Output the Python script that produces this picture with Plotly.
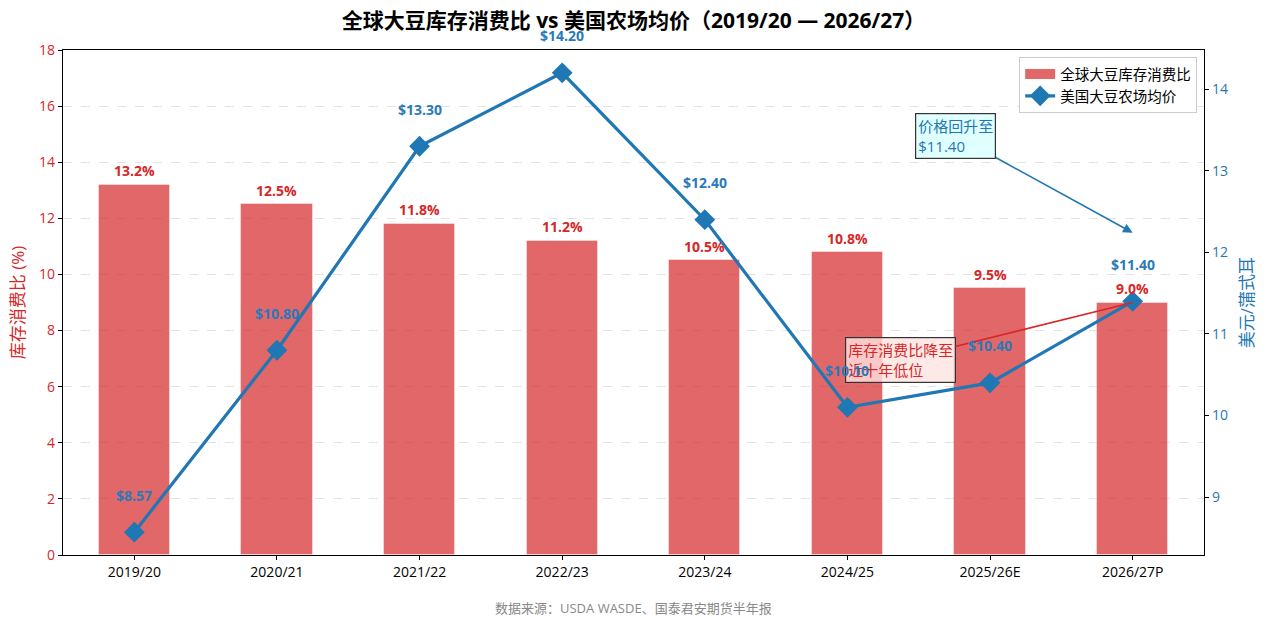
import plotly.graph_objects as go
from plotly.subplots import make_subplots

years = ["2019/20", "2020/21", "2021/22", "2022/23", "2023/24", "2024/25", "2025/26E", "2026/27P"]
stock_ratio = [13.2, 12.5, 11.8, 11.2, 10.5, 10.8, 9.5, 9.0]
farm_price = [8.57, 10.80, 13.30, 14.20, 12.40, 10.10, 10.40, 11.40]

RED = "#d62728"
BLUE = "#1f77b4"
BAR_FILL = "rgba(214,39,40,0.7)"
FONT = "Open Sans, Noto Sans CJK SC"

fig = make_subplots(specs=[[{"secondary_y": True}]])
xs = list(range(len(years)))

fig.add_trace(go.Bar(x=xs, y=stock_ratio, width=0.5, name="全球大豆库存消费比", showlegend=False,
                     marker=dict(color=BAR_FILL,
                                 line=dict(color="rgba(255,255,255,0.4)", width=1))),
              secondary_y=False)
# legend swatch for the bars (rectangular patch)
fig.add_trace(go.Scatter(x=[None], y=[None], mode="lines", name="全球大豆库存消费比",
                         line=dict(color=BAR_FILL, width=10)), secondary_y=False)
fig.add_trace(go.Scatter(x=xs, y=farm_price, mode="lines+markers", name="美国大豆农场均价",
                         line=dict(color=BLUE, width=3.2),
                         marker=dict(symbol="diamond", size=16, color=BLUE)),
              secondary_y=True)

# callout boxes first so value labels sit on top of them
fig.add_annotation(x=7, y=9.0, xref="x", yref="y", ax=5.37, ay=6.95, axref="x", ayref="y",
                   text="库存消费比降至<br>近十年低位", showarrow=True, arrowcolor=RED, arrowwidth=1.6,
                   arrowhead=0, align="left", font=dict(color=RED, size=15, family=FONT),
                   bgcolor="rgba(255,228,225,0.8)", bordercolor="#333333", borderwidth=1.2, borderpad=2)
fig.add_annotation(x=7, y=12.24, xref="x", yref="y2", ax=5.76, ay=13.43, axref="x", ayref="y2",
                   text="价格回升至<br>$11.40", showarrow=True, arrowcolor=BLUE, arrowwidth=1.6,
                   arrowhead=2, arrowsize=1.2, align="left", font=dict(color=BLUE, size=15, family=FONT),
                   bgcolor="#e0ffff", bordercolor="#333333", borderwidth=1.2, borderpad=2)

for i, v in enumerate(stock_ratio):
    fig.add_annotation(x=i, y=v, text=f"<b>{v:.1f}%</b>", showarrow=False, xref="x", yref="y",
                       yshift=14, font=dict(color=RED, size=14, family=FONT))
for i, v in enumerate(farm_price):
    fig.add_annotation(x=i, y=v, text=f"<b>${v:.2f}</b>", showarrow=False, xref="x", yref="y2",
                       yshift=37, font=dict(color="#2a7ab9", size=14, family=FONT))

fig.add_annotation(x=0.5, y=-0.105, xref="paper", yref="paper", xanchor="center", yanchor="middle",
                   text="数据来源：USDA WASDE、国泰君安期货半年报", showarrow=False,
                   font=dict(color="#888888", size=13, family=FONT))

fig.update_layout(
    width=1267, height=630,
    margin=dict(l=63, r=63, t=50, b=75),
    paper_bgcolor="white", plot_bgcolor="white",
    font=dict(family=FONT, size=14, color="black"),
    title=dict(text="<b>全球大豆库存消费比 vs 美国农场均价（2019/20 — 2026/27）</b>",
               x=0.5, xanchor="center", y=0.968, yanchor="middle",
               font=dict(size=21, color="black", family=FONT)),
    legend=dict(x=0.994, y=0.986, xanchor="right", yanchor="top", bgcolor="rgba(255,255,255,0.9)",
                bordercolor="#cccccc", borderwidth=1, font=dict(size=14.5, family=FONT)),
    showlegend=True,
    bargap=0,
)
fig.update_xaxes(range=[-0.5, 7.5], domain=[0, 1], tickmode="array", tickvals=xs, ticktext=years,
                 showline=True, linecolor="black", linewidth=1.2, mirror=True,
                 ticks="outside", ticklen=4, tickcolor="black", showgrid=False,
                 tickfont=dict(size=14, color="black"))
fig.update_yaxes(range=[0, 18], dtick=2, secondary_y=False,
                 title=dict(text="库存消费比 (%)", font=dict(color=RED, size=17), standoff=10),
                 tickfont=dict(color=RED, size=14), showline=True, linecolor="black", linewidth=1.2,
                 ticks="outside", ticklen=4, tickcolor="black",
                 showgrid=True, gridcolor="rgba(200,200,200,0.5)", griddash="dash", gridwidth=1,
                 zeroline=False)
fig.update_yaxes(range=[8.29, 14.48], dtick=1, secondary_y=True,
                 title=dict(text="美元/蒲式耳", font=dict(color=BLUE, size=17), standoff=14),
                 tickfont=dict(color=BLUE, size=14), showline=True, linecolor="black", linewidth=1.2,
                 ticks="outside", ticklen=4, tickcolor="black", showgrid=False, zeroline=False)

fig.write_html("out.html")
